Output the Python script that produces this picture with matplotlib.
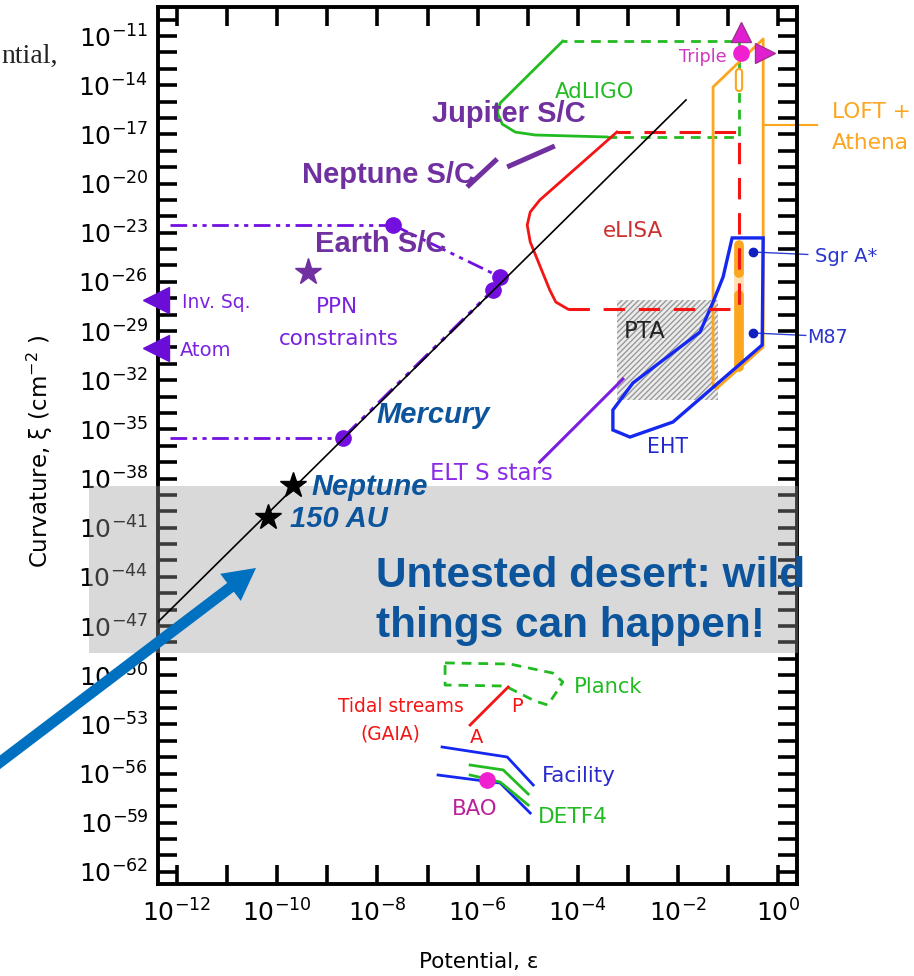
import numpy as np
import matplotlib.pyplot as plt
from matplotlib.patches import Rectangle, Polygon, FancyArrow
from matplotlib.transforms import IdentityTransform

# every position below is stored as log10(potential), log10(curvature)

# xi ~ eps^3 line through the solar-system points
line_eps = [-12.38, -1.84]
line_xi = [-46.75, -14.90]

# solar-system tests
stars_eps = [-9.69, -10.18]          # Neptune, 150 AU
stars_xi = [-38.39, -40.35]
mercury_eps, mercury_xi = -8.69, -35.53
earth_eps = [-7.69, -5.55, -5.69]
earth_xi = [-22.53, -25.70, -26.50]
limit_eps = -12.14                   # dash-dot limits start at the left edge
ppn_eps, ppn_xi = -9.39, -25.40
lab_eps = -12.42                     # Inv. Sq. / Atom arrows on the axis
lab_xi = [-27.11, -30.04]
jupiter_sc_eps = [-5.41, -4.46]
jupiter_sc_xi = [-18.99, -17.71]
neptune_sc_eps = [-6.21, -5.61]
neptune_sc_xi = [-20.21, -18.50]

# gravitational-wave detectors
adligo_eps = [-4.30, -5.55, -5.61, -5.51, -5.25, -4.85, -3.42]
adligo_xi = [-11.31, -15.09, -15.64, -16.37, -16.86, -17.04, -17.16]
adligo_box_eps = [-3.42, -0.79, -0.79, -4.30]
adligo_box_xi = [-17.16, -17.16, -11.31, -11.31]
elisa_eps = [-3.22, -4.76, -4.95, -5.01, -4.95, -4.56, -4.44, -4.20]
elisa_xi = [-16.86, -21.01, -21.74, -22.53, -23.57, -26.50, -27.23, -27.66]
elisa_box_eps = [-4.20, -0.79, -0.79, -3.22]
elisa_box_xi = [-27.66, -27.66, -16.86, -16.86]

# compact objects
triple_eps, triple_xi = -0.74, -12.04
triple_up_xi = -10.76
triple_right_eps = -0.26
loft_eps = [-1.22, -1.30, -1.30, -0.30, -0.30, -1.22]
loft_xi = [-32.48, -32.42, -14.11, -11.18, -29.98, -32.48]
loft_tag_eps = [-0.30, 0.77]
loft_tag_xi = -16.43
bar_eps = -0.78
bar_solid_xi = [[-23.75, -25.46], [-26.80, -31.20]]
bar_faint_xi = [-25.46, -26.80]
bar_hollow_xi = [-13.20, -14.17]
eht_eps = [-0.92, -0.30, -0.32, -2.10, -2.96, -3.30, -3.30, -2.90, -1.56, -1.30, -1.10, -0.92]
eht_xi = [-23.32, -23.32, -29.85, -34.55, -35.47, -35.04, -33.82, -32.17, -29.06, -27.23, -25.70, -23.32]
bh_eps = -0.50
bh_xi = [-24.18, -29.12]            # Sgr A*, M87
bh_tag_eps = [0.59, 0.55]
pta_eps = [-3.22, -1.20]
pta_xi = [-33.21, -27.11]
elt_eps = [-4.76, -3.10]
elt_xi = [-36.99, -31.93]

# cosmology
planck_eps = [-6.65, -5.35, -4.50, -4.30, -4.44, -4.60, -4.86, -5.45, -6.65, -6.65]
planck_xi = [-49.25, -49.32, -49.87, -50.41, -51.09, -51.82, -51.57, -50.66, -50.60, -49.25]
tidal_eps = [-6.15, -5.39]
tidal_xi = [-53.04, -50.72]
facility_eps = [[-6.71, -5.41, -4.89], [-6.79, -5.55, -4.95]]
facility_xi = [[-54.38, -54.99, -56.70], [-56.09, -56.58, -58.41]]
detf4_eps = [[-6.15, -5.49, -4.99], [-6.15, -5.55, -4.99]]
detf4_xi = [[-55.48, -55.78, -57.25], [-56.09, -56.52, -57.92]]
bao_eps, bao_xi = -5.81, -56.39

desert_xi = [-48.64, -38.46]

x_ticks = list(range(-12, 1))
y_ticks = list(range(-62, -9))


def L(v):
    return 10.0 ** np.asarray(v, dtype=float)


PURPLE = '#7030a0'
VIOLET = '#7310e0'
NAVY = '#0c559d'
GREEN = '#22bb22'
RED = '#f41414'
ORANGE = '#fba61e'
BLUE = '#1428f0'
DASHDOT = (0, (6, 2, 1.5, 2, 1.5, 2))

fig = plt.figure(figsize=(9.14, 9.76), dpi=100)
ax = fig.add_axes([0.17287, 0.09426, 0.69912, 0.89857])
ax.set_xscale('log')
ax.set_yscale('log')
ax.set_xlim(L(-12.38), L(0.375))
ax.set_ylim(L(-62.74), L(-9.23))

ax.set_xticks(L(x_ticks))
ax.set_xticklabels([f'$10^{{{k}}}$' if k % 2 == 0 else '' for k in x_ticks])
ax.set_yticks(L(y_ticks))
ax.set_yticklabels([f'$10^{{{k}}}$' if (k + 11) % 3 == 0 else '' for k in y_ticks])
ax.minorticks_off()
ax.tick_params(which='major', direction='in', length=13.5, width=2.6,
               top=True, right=True, labelsize=18, pad=7, colors='black')
ax.tick_params(axis='x', pad=11)
for s in ax.spines.values():
    s.set_linewidth(2.8)

# main scaling line and the points on it
ax.plot(L(line_eps), L(line_xi), color='black', lw=1.2, zorder=4)
ax.plot(L(stars_eps), L(stars_xi), ls='none', marker='*', ms=19,
        color='black', zorder=5)

# dash-dot limits
ax.plot(L([limit_eps, earth_eps[0]]), L([earth_xi[0]] * 2), color=VIOLET,
        lw=2, ls=DASHDOT)
ax.plot(L(earth_eps[:2]), L(earth_xi[:2]), color=VIOLET, lw=2, ls=DASHDOT)
ax.plot(L([limit_eps, mercury_eps]), L([mercury_xi] * 2), color=VIOLET,
        lw=2, ls=DASHDOT)
ax.plot(L([mercury_eps, earth_eps[2]]), L([mercury_xi, earth_xi[2]]),
        color=VIOLET, lw=2.4, ls=DASHDOT)
ax.plot(L(earth_eps + [mercury_eps]), L(earth_xi + [mercury_xi]), ls='none',
        marker='o', ms=11, color=VIOLET)
ax.plot(L(ppn_eps), L(ppn_xi), marker='*', ms=20, color=PURPLE)
ax.plot(L([lab_eps] * 2), L(lab_xi), ls='none', marker='<', ms=19,
        color='#6a0dd6', clip_on=False, zorder=4)
ax.plot(L(jupiter_sc_eps), L(jupiter_sc_xi), color=PURPLE, lw=3.6,
        solid_capstyle='butt')
ax.plot(L(neptune_sc_eps), L(neptune_sc_xi), color=PURPLE, lw=3.6,
        solid_capstyle='butt')

# AdLIGO and eLISA
ax.plot(L(adligo_eps), L(adligo_xi), color=GREEN, lw=2)
ax.plot(L(adligo_box_eps), L(adligo_box_xi), color=GREEN, lw=2,
        ls=(0, (3.5, 2.5)))
ax.plot(L(elisa_eps), L(elisa_xi), color=RED, lw=2, zorder=2.2)
ax.plot(L(elisa_box_eps), L(elisa_box_xi), color=RED, lw=2.2,
        ls=(0, (7, 4.5)), zorder=2.6)

# LOFT + Athena
ax.plot(L(loft_eps), L(loft_xi), color=ORANGE, lw=2)
ax.plot(L(loft_tag_eps), L([loft_tag_xi] * 2), color=ORANGE, lw=1.5,
        clip_on=False)
for seg in bar_solid_xi:
    ax.plot(L([bar_eps] * 2), L(seg), color=ORANGE, lw=7,
            solid_capstyle='round', zorder=2.1)
ax.plot(L([bar_eps] * 2), L(bar_faint_xi), color=ORANGE, lw=7, alpha=0.35,
        zorder=2.1)
ax.plot(L([bar_eps] * 2), L(bar_hollow_xi), color=ORANGE, lw=6,
        solid_capstyle='round', zorder=2.1)
ax.plot(L([bar_eps] * 2), L(bar_hollow_xi), color='white', lw=3,
        solid_capstyle='round', zorder=2.15)

# Triple system markers
ax.plot(L(triple_eps), L(triple_xi), marker='o', ms=11, color='#f020d0',
        zorder=4)
ax.plot(L(triple_eps), L(triple_up_xi), marker='^', ms=14, color='#e020d0',
        mec='#a03090', zorder=4)
ax.plot(L(triple_right_eps), L(triple_xi), marker='>', ms=14,
        color='#e020d0', mec='#a03090', zorder=4)

# PTA, EHT, S stars
ax.add_patch(Rectangle((L(pta_eps[0]), L(pta_xi[0])),
                       L(pta_eps[1]) - L(pta_eps[0]),
                       L(pta_xi[1]) - L(pta_xi[0]),
                       facecolor='#ececec', edgecolor='#9a9a9a',
                       hatch='//////', lw=0, zorder=1.8))
ax.add_patch(Polygon(np.column_stack([L(eht_eps), L(eht_xi)]), closed=True,
                     fill=False, edgecolor=BLUE, lw=2.4, zorder=2.3))
for xi, tag in zip(bh_xi, bh_tag_eps):
    ax.plot(L([bh_eps, tag]), L([xi, xi - 0.15]), color='#3040d0', lw=1,
            clip_on=False)
ax.plot(L([bh_eps] * 2), L(bh_xi), ls='none', marker='o', ms=6,
        color='#1020c0')
ax.plot(L(elt_eps), L(elt_xi), color='#7a1fe0', lw=2.2)

# cosmological probes
ax.plot(L(planck_eps), L(planck_xi), color=GREEN, lw=2, ls=(0, (3.5, 2.5)))
ax.plot(L(tidal_eps), L(tidal_xi), color=RED, lw=2)
for e, x in zip(facility_eps, facility_xi):
    ax.plot(L(e), L(x), color=BLUE, lw=2)
for e, x in zip(detf4_eps, detf4_xi):
    ax.plot(L(e), L(x), color=GREEN, lw=2)
ax.plot(L(bao_eps), L(bao_xi), marker='o', ms=11, color='#f020d0', zorder=4)

# untested band (reaches over the tick labels)
ax.add_patch(Rectangle((-0.108, L(desert_xi[0])), 1.1096,
                       L(desert_xi[1]) - L(desert_xi[0]),
                       transform=ax.get_yaxis_transform(), clip_on=False,
                       facecolor=(0.61, 0.61, 0.61), alpha=0.385, lw=0,
                       zorder=3))


def label(e, x, s, color, size, ha='left', **kw):
    ax.text(L(e), L(x), s, color=color, fontsize=size, ha=ha, va='baseline',
            zorder=6, clip_on=False, **kw)


bold = dict(family='Liberation Sans', fontweight='bold')
label(-6.91, -16.25, 'Jupiter S/C', PURPLE, 21, **bold)
label(-9.50, -19.97, 'Neptune S/C', PURPLE, 21, **bold)
label(-9.25, -24.18, 'Earth S/C', PURPLE, 21, **bold)
label(-8.01, -34.61, 'Mercury', NAVY, 21, fontstyle='italic', **bold)
label(-9.31, -39.00, 'Neptune', NAVY, 21, fontstyle='italic', **bold)
label(-9.74, -40.96, '150 AU', NAVY, 21, fontstyle='italic', **bold)
label(-8.03, -44.62, 'Untested desert: wild', NAVY, 30.5, **bold)
label(-8.03, -47.67, 'things can happen!', NAVY, 30.5, **bold)

label(-3.66, -14.78, 'AdLIGO', GREEN, 15.4, ha='center')
label(-3.50, -23.26, 'eLISA', '#cc3030', 15.5)
label(-1.02, -12.59, 'Triple', '#d038c0', 12.7, ha='right')
label(1.07, -16.00, 'LOFT +', ORANGE, 15.6)
label(1.07, -17.89, 'Athena', ORANGE, 15.6)
label(0.73, -24.79, 'Sgr A*', '#2a35cc', 14)
label(0.575, -29.73, 'M87', '#2a35cc', 13.8)
label(-3.08, -29.43, 'PTA', '#222222', 16.5)
label(-2.62, -36.44, 'EHT', '#2228cc', 14.8)
label(-6.95, -38.09, 'ELT S stars', '#8a2ae8', 16.4)
label(-11.90, -27.60, 'Inv. Sq.', '#7a22e0', 13.5)
label(-11.94, -30.52, 'Atom', '#7a22e0', 14)
label(-8.81, -27.90, 'PPN', '#7a22e0', 15.5, ha='center')
label(-8.77, -29.85, 'constraints', '#7a22e0', 15.5, ha='center')
label(-4.08, -51.09, 'Planck', GREEN, 15.2)
label(-8.79, -52.25, 'Tidal streams', RED, 13.4)
label(-7.75, -53.95, '(GAIA)', RED, 13.4, ha='center')
label(-5.33, -52.25, 'P', RED, 14)
label(-6.15, -54.14, 'A', RED, 14)
label(-4.71, -56.52, 'Facility', '#2a2acc', 15.4)
label(-4.79, -59.02, 'DETF4', GREEN, 15.6)
label(-6.51, -58.53, 'BAO', '#bb2299', 15.3)

# big pointer into the desert, drawn in output pixels
fig.add_artist(FancyArrow(-30, 191, 286, 217, width=11, head_width=34,
                          head_length=32, length_includes_head=True,
                          color='#0070c0', lw=0, transform=IdentityTransform(),
                          zorder=7))

fig.text(40 / 914, 1 - 451 / 976, r'Curvature, ξ (cm$^{-2}$ )', rotation=90,
         ha='center', va='center', fontsize=16.5)
fig.text(479 / 914, 1 - 968 / 976, 'Potential, ε', ha='center',
         va='baseline', fontsize=15.5)
fig.text(1 / 914, 1 - 63 / 976, 'ntial,', ha='left', va='baseline',
         family='Liberation Serif', fontsize=20, color='#222222')

fig.savefig('out.png', dpi=100)
